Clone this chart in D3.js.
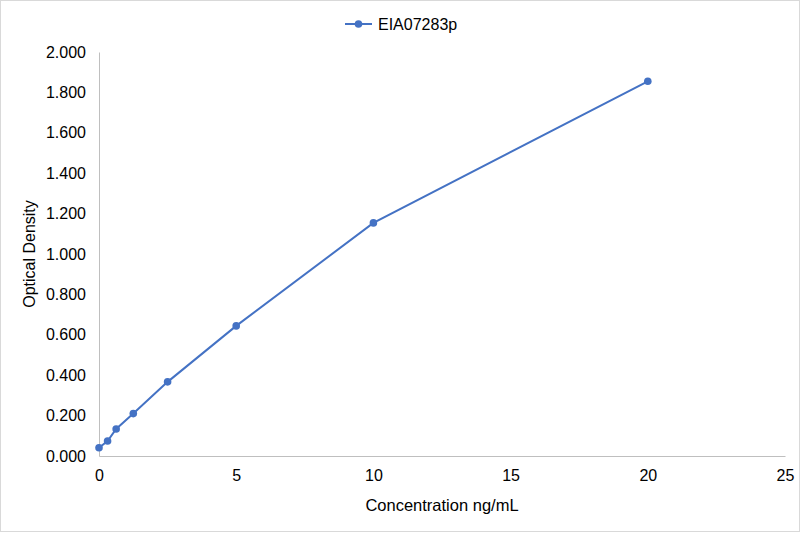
<!DOCTYPE html>
<html><head><meta charset="utf-8">
<script src="https://cdn.jsdelivr.net/npm/d3@7"></script>
<style>body{margin:0;background:#fff}text{font-family:"Liberation Sans",Arial,sans-serif}</style>
</head><body><svg id="c" width="801" height="533"></svg>
<script>
const seriesName = "EIA07283p";
const concentrations = [0, 0.3125, 0.625, 1.25, 2.5, 5, 10, 20];
const densities = [0.041, 0.074, 0.134, 0.210, 0.367, 0.644, 1.154, 1.855];
const xTicks = [0, 5, 10, 15, 20, 25];
const yTicks = [0, 0.2, 0.4, 0.6, 0.8, 1.0, 1.2, 1.4, 1.6, 1.8, 2.0];
const xTitle = "Concentration ng/mL";
const yTitle = "Optical Density";

const svg = d3.select("#c");
const color = "#4472C4";
svg.append("rect").attr("x",0.5).attr("y",0.5).attr("width",799).attr("height",531)
  .attr("fill","#fff").attr("stroke","#d9d9d9");
const x = d3.scaleLinear().domain([0,25]).range([99,785]);
const y = d3.scaleLinear().domain([0,2]).range([456,52]);

const gx = svg.append("g").attr("transform","translate(0,456)")
  .call(d3.axisBottom(x).tickValues(xTicks).tickSize(0).tickPadding(14).tickFormat(d3.format("d")));
gx.select(".domain").attr("stroke","#bfbfbf");
gx.selectAll("text").attr("font-size",16).attr("fill","#000").attr("font-family","Liberation Sans, Arial, sans-serif");
const gy = svg.append("g").attr("transform","translate(99,0)")
  .call(d3.axisLeft(y).tickValues(yTicks).tickSize(0).tickPadding(13).tickFormat(d3.format(".3f")));
gy.select(".domain").attr("stroke","#bfbfbf");
gy.selectAll("text").attr("font-size",16).attr("fill","#000").attr("font-family","Liberation Sans, Arial, sans-serif");

const data = concentrations.map((c,i)=>({c, d:densities[i]}));
svg.append("path").datum(data).attr("fill","none").attr("stroke",color).attr("stroke-width",2)
  .attr("d", d3.line().x(d=>x(d.c)).y(d=>y(d.d)));
svg.selectAll("circle.p").data(data).join("circle").attr("class","p")
  .attr("cx",d=>x(d.c)).attr("cy",d=>y(d.d)).attr("r",3.8).attr("fill",color);

svg.append("text").attr("x",442).attr("y",511).attr("text-anchor","middle")
  .attr("font-size",16.5).attr("fill","#000").text(xTitle);
svg.append("text").attr("transform","translate(35,254) rotate(-90)").attr("text-anchor","middle")
  .attr("font-size",16).attr("fill","#000").text(yTitle);

const lg = svg.append("g");
lg.append("line").attr("x1",345).attr("x2",372).attr("y1",24).attr("y2",24).attr("stroke",color).attr("stroke-width",2);
lg.append("circle").attr("cx",358.5).attr("cy",24).attr("r",3.8).attr("fill",color);
lg.append("text").attr("x",378).attr("y",29.5).attr("font-size",16).attr("fill","#000").text(seriesName);
</script></body></html>
